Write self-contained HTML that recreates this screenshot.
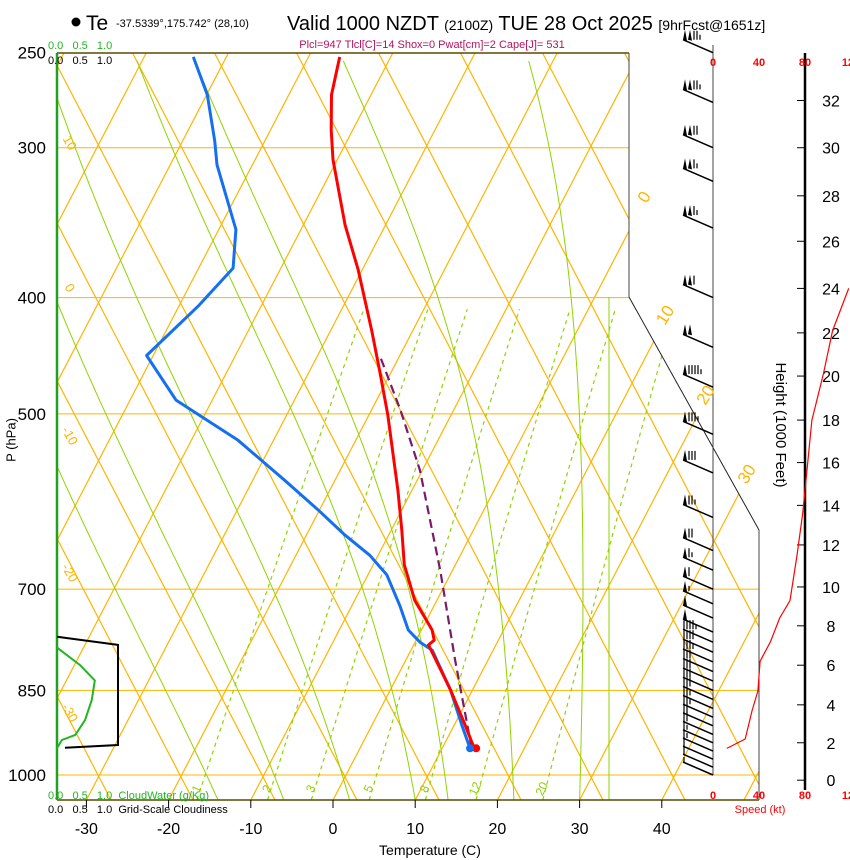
<!DOCTYPE html>
<html><head><meta charset="utf-8"><style>
body{margin:0;background:#fff;}
svg{display:block;font-family:"Liberation Sans",sans-serif;}
</style></head><body>
<svg id="c" width="850" height="860" viewBox="0 0 850 860" xmlns="http://www.w3.org/2000/svg">
<defs><clipPath id="clipMain"><polygon points="57,53 629,53 629,297 759,530 759,800 57,800"/></clipPath></defs>
<g id="grid" clip-path="url(#clipMain)"></g>
<g id="marks"></g>
<g id="texts">
<circle cx="76" cy="22" r="4.5" fill="#000"/>
<text x="86" y="30" font-size="21">Te</text>
<text x="116" y="27" font-size="11">-37.5339°,175.742° (28,10)</text>
<text x="287" y="30" font-size="20">Valid 1000 NZDT <tspan font-size="14">(2100Z)</tspan> TUE 28 Oct 2025 <tspan font-size="14">[9hrFcst@1651z]</tspan></text>
<text x="432" y="48" font-size="11" fill="#b3135e" text-anchor="middle">Plcl=947 Tlcl[C]=14 Shox=0 Pwat[cm]=2 Cape[J]= 531</text>
<text x="48" y="49" font-size="11" fill="#22b522">0.0&#160;&#160;&#160;0.5&#160;&#160;&#160;1.0</text>
<text x="48" y="64" font-size="11">0.0&#160;&#160;&#160;0.5&#160;&#160;&#160;1.0</text>
<text x="48" y="799" font-size="11" fill="#22b522">0.0&#160;&#160;&#160;0.5&#160;&#160;&#160;1.0&#160;&#160;CloudWater (g/Kg)</text>
<text x="48" y="813" font-size="11">0.0&#160;&#160;&#160;0.5&#160;&#160;&#160;1.0&#160;&#160;Grid-Scale Cloudiness</text>
<text x="12" y="440" font-size="13" transform="rotate(-90 12 440)" text-anchor="middle" dominant-baseline="middle">P (hPa)</text>
<text x="430" y="855" font-size="14" text-anchor="middle">Temperature (C)</text>
<text x="780" y="425" font-size="15" transform="rotate(90 780 425)" text-anchor="middle" dominant-baseline="middle">Height (1000 Feet)</text>
<text x="760" y="813" font-size="11" fill="#f00" text-anchor="middle">Speed (kt)</text>
</g>
</svg>
<script>
// ---- data ----
const pressTicks=[250,300,400,500,700,850,1000];
const tempTicks=[-30,-20,-10,0,10,20,30,40];
const tempP=[252,271,290,307,348,379,426,460,501,579,625,668,715,757,772,779,849,908,950];
const tempT=[-46.2,-44.8,-42.6,-40.5,-34.9,-30.5,-25.0,-21.5,-17.7,-11.7,-8.7,-6.2,-2.7,1.3,2.2,1.8,7.3,11.3,13.9];
const dewP=[252,271,296,310,351,378,406,447,487,526,568,601,631,656,681,722,757,775,787,849,908,950];
const dewT=[-64.0,-59.9,-56.1,-54.3,-47.9,-45.8,-47.6,-50.8,-44.4,-34.3,-26.1,-20.2,-15.3,-11.0,-7.7,-4.2,-1.6,0.6,2.6,7.3,10.9,13.4];
const parcelP=[950,802,675,557,496,448];
const parcelT=[13.6,6.0,-1.5,-10.3,-16.5,-22.3];
const mixRatios=[1,2,3,5,8,12,20];
const moistStart=[-14,-6,2,10,14,22,30];
const isoLabels=[0,10,20,30];
const adiabLabels=[10,0,-10,-20,-30];
const barbP=[250,275,300,320,350,400,440,475,520,560,610,650,675,700,720,740,760,775,790,805,820,835,850,865,880,895,910,925,940,955,970,985,1000];
const barbSpd=[125,125,120,115,115,110,100,95,85,80,75,70,65,60,55,50,50,45,40,35,30,30,30,30,28,25,22,20,18,15,12,10,8];
const heightTicks=[0,2,4,6,8,10,12,14,16,18,20,22,24,26,28,30,32];
const heightTickP=[1010,940,874,810,751,697,643,596,549,506,465,428,393,359,329,300,274];
const speedTicks=[0,40,80,120];
const spdH=[1.7,2.2,3.7,4.7,6.2,7.2,8.4,9.3,11.5,13.6,15.8,18,20.1,22.1,24];
const spdV=[12,28,34,39,41,50,58,67,73,78,82,86,96,104,118];
const cldP=[767,779,944,949];
const cldV=[0,1.0,1.0,0.13];
const cwP=[783,810,834,866,900,926,935,950];
const cwV=[0,0.38,0.62,0.57,0.46,0.3,0.08,0];
// ---- axis functions ----
const Y=p=>775-521*Math.log(1000/p);
const PofY=y=>1000*Math.exp((y-775)/521);
const X=(T,p)=>333+8.22*T+0.52*(800-Y(p));
const xs=v=>57+v*61;
const SX=s=>713+s*46/40;
function hY(h){for(let i=0;i<heightTicks.length-1;i++){if(h<=heightTicks[i+1]){const f=(h-heightTicks[i])/(heightTicks[i+1]-heightTicks[i]);return Y(heightTickP[i])+f*(Y(heightTickP[i+1])-Y(heightTickP[i]));}}return Y(heightTickP[heightTickP.length-1]);}
const NS='http://www.w3.org/2000/svg';
function mk(tag,attrs,parent){const e=document.createElementNS(NS,tag);for(const k in attrs)e.setAttribute(k,attrs[k]);parent.appendChild(e);return e;}
const G=document.getElementById('grid'),M=document.getElementById('marks');
const OR='#ffb400',GR='#8fd400';
for(let T=-110;T<=60;T+=10){const l=mk('line',{x1:X(T,1049),y1:800,x2:X(T,250),y2:53,stroke:OR,'stroke-width':1.2},G);

}
for(let n=-2;n<=16;n++){const xb=111+82*n;const l=mk('line',{x1:xb,y1:800,x2:xb-747*0.52,y2:53,stroke:OR,'stroke-width':1.2},G);

}
pressTicks.forEach(p=>{const l=mk('line',{x1:57,y1:Y(p),x2:759,y2:Y(p),stroke:OR,'stroke-width':1},G);

});
const vl=mk('line',{x1:609,y1:297,x2:609,y2:800,stroke:GR,'stroke-width':1},G);


function tdw(w,p){const e=w*p/(622+w);const a=Math.log(e/6.112);return 243.5*a/(17.67-a);}
mixRatios.forEach(w=>{const pts=[];for(let p=1049;p>=400;p-=10){pts.push(X(tdw(w,p),p).toFixed(1)+','+Y(p).toFixed(1));}
const l=mk('polyline',{points:pts.join(' '),fill:'none',stroke:GR,'stroke-width':1.2,'stroke-dasharray':'4,4'},G);


const lx=X(tdw(w,1030),1030),ly=Y(1030);
const t=mk('text',{x:lx,y:ly,fill:GR,'font-size':12,'text-anchor':'middle',transform:'rotate(-65 '+lx+' '+ly+')'},G);t.textContent=w;

});
function rs(T,p){const e=6.112*Math.exp(17.67*T/(T+243.5));return 0.622*e/(p-e);}
moistStart.forEach(t0=>{let T=t0+273.15,p=1049;const pts=[];while(p>=250){pts.push(X(T-273.15,p).toFixed(1)+','+Y(p).toFixed(1));const r=rs(T-273.15,p);const dTdp=(287*T+2.5e6*r)/(p*(1004+2.5e6*2.5e6*r*0.622/(287*T*T)));T-=dTdp*5;p-=5;}
const l=mk('polyline',{points:pts.join(' '),fill:'none',stroke:GR,'stroke-width':1},G);

});
[[57,53,629,53,'#5a4a00',1.5,'top-border'],[57,800,759,800,'#5a4a00',1.5,'bottom-border'],[57,53,57,800,'#22a022',2.5,'left-axis'],[629,53,629,297,'#444',1,'right-border-upper'],[629,297,759,530,'#222',1,'right-border-diagonal'],[759,530,759,800,'#444',1,'right-border-lower'],[713,45,713,775,'#444',1,'barb-axis'],[805,53,805,790,'#000',2.5,'height-axis']].forEach(a=>{const l=mk('line',{x1:a[0],y1:a[1],x2:a[2],y2:a[3],stroke:a[4],'stroke-width':a[5]},M);

});
pressTicks.forEach(p=>{const t=mk('text',{x:46,y:Y(p)+6,'font-size':17,'text-anchor':'end'},M);t.textContent=p;

});
tempTicks.forEach(T=>{const x=333+8.22*T;const l=mk('line',{x1:x,y1:800,x2:x,y2:808,stroke:'#000'},M);


const t=mk('text',{x:x,y:834,'font-size':16,'text-anchor':'middle'},M);t.textContent=T;

});
const isoLabelY=[200,318,398,477];
isoLabels.forEach((T,i)=>{const yy=isoLabelY[i];const x=X(T,PofY(yy))+4;const t=mk('text',{x:x,y:yy,fill:OR,'font-size':17,'text-anchor':'middle',transform:'rotate(-58 '+x+' '+yy+')'},M);t.textContent=T;

});
const adiabLabelY=[145,290,438,575,715];
adiabLabels.forEach((v,i)=>{const yy=adiabLabelY[i];const t=mk('text',{x:66,y:yy,fill:OR,'font-size':13,'text-anchor':'middle',transform:'rotate(60 66 '+yy+')'},M);t.textContent=v;

});
function line(P,V,attrs){const pts=P.map((p,i)=>X(V[i],p).toFixed(1)+','+Y(p).toFixed(1)).join(' ');return mk('polyline',Object.assign({points:pts,fill:'none','stroke-linejoin':'round'},attrs),M);}
const pl=line(parcelP,parcelT,{stroke:'#7a1a6a','stroke-width':2.2,'stroke-dasharray':'9,5'});


const dl=line(dewP,dewT,{stroke:'#1470f0','stroke-width':3});


const tl=line(tempP,tempT,{stroke:'#f00','stroke-width':3});


const sd=mk('circle',{cx:X(tempT[tempT.length-1],tempP[tempP.length-1])+2,cy:Y(tempP[tempP.length-1]),r:4,fill:'#f00'},M);


const dd=mk('circle',{cx:X(dewT[dewT.length-1],dewP[dewP.length-1]),cy:Y(dewP[dewP.length-1]),r:4,fill:'#1470f0'},M);


const cl=mk('polyline',{points:cldP.map((p,i)=>xs(cldV[i])+','+Y(p).toFixed(1)).join(' '),fill:'none',stroke:'#000','stroke-width':2},M);


const cw=mk('polyline',{points:cwP.map((p,i)=>xs(cwV[i])+','+Y(p).toFixed(1)).join(' '),fill:'none',stroke:'#22b522','stroke-width':2},M);


barbP.forEach((p,i)=>{const y=Y(p),s=barbSpd[i];const g=mk('g',{},M);


const ex=683,ey=y-13;mk('line',{x1:713,y1:y,x2:ex,y2:ey,stroke:'#000','stroke-width':1.5},g);
let r=s,x=ex;while(r>=50){mk('polygon',{points:x+','+ey+' '+(x+4)+','+(ey+1)+' '+(x+2)+','+(ey-10),fill:'#000'},g);x+=5;r-=50;}
while(r>=10){mk('line',{x1:x+1,y1:ey,x2:x+1,y2:ey-9,stroke:'#000','stroke-width':1.2},g);x+=3;r-=10;}
if(r>=5){mk('line',{x1:x+1,y1:ey,x2:x+1,y2:ey-5,stroke:'#000','stroke-width':1.2},g);}});
heightTicks.forEach((h,i)=>{const y=Y(heightTickP[i]);const l=mk('line',{x1:797,y1:y,x2:805,y2:y,stroke:'#000'},M);


const t=mk('text',{x:831,y:y+6,'font-size':16,'text-anchor':'middle'},M);t.textContent=h;

});
speedTicks.forEach(s=>{[66,799].forEach(y=>{const t=mk('text',{x:SX(s),y:y,'font-size':11,'font-weight':'bold',fill:'#f00','text-anchor':'middle'},M);t.textContent=s;

});});
const sp=mk('polyline',{points:spdH.map((h,i)=>SX(spdV[i]).toFixed(1)+','+hY(h).toFixed(1)).join(' '),fill:'none',stroke:'#f00','stroke-width':1.2},M);


</script>
</body></html>
